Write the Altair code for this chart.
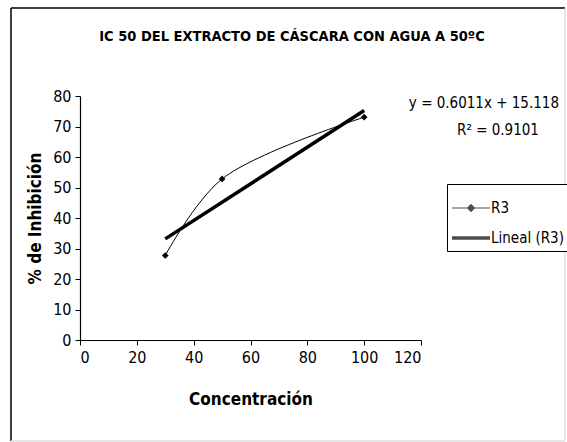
import altair as alt
import pandas as pd

# Observed inhibition values (R3) at each concentration
concentracion = [30, 50, 100]
inhibicion = [27.7, 52.8, 73.05]

# Linear trend reported on the chart
pendiente = 0.6011
intercepto = 15.118
r2 = 0.9101
tramo_x = [30, 100]

series = ["R3", "Lineal (R3)"]
x_ticks = [0, 20, 40, 60, 80, 100, 120]
y_ticks = [0, 10, 20, 30, 40, 50, 60, 70, 80]

titulo = "IC 50 DEL EXTRACTO DE CÁSCARA CON AGUA A 50ºC"
ecuacion = f"y = {pendiente}x + {intercepto}"
r2_texto = f"R² = {r2}"

FONT = "Liberation Sans Narrow, DejaVu Sans Condensed, Liberation Sans"

obs = pd.DataFrame({"x": concentracion, "y": inhibicion, "serie": "R3"})
trend = pd.DataFrame({
    "x": tramo_x,
    "y": [pendiente * v + intercepto for v in tramo_x],
    "serie": "Lineal (R3)",
})

x_enc = alt.X("x:Q", scale=alt.Scale(domain=[0, 120], nice=False),
              axis=alt.Axis(values=x_ticks, title="Concentración", titlePadding=26))
y_enc = alt.Y("y:Q", scale=alt.Scale(domain=[0, 80], nice=False),
              axis=alt.Axis(values=y_ticks, title="% de Inhibición", titlePadding=8))

curve = alt.Chart(obs).mark_line(interpolate="catmull-rom", color="black", strokeWidth=1).encode(
    x=x_enc, y=y_enc)

points = alt.Chart(obs).mark_point(shape="diamond", filled=True, color="black", size=45, opacity=1).encode(
    x=x_enc, y=y_enc)

trend_line = alt.Chart(trend).mark_line(color="black", strokeWidth=3.5).encode(x=x_enc, y=y_enc)

# Legend symbols: thin line with diamond, and a thick bar
sym_r3 = "M-1,-0.03H1V0.03H-1Z M-0.22,0L0,-0.22L0.22,0L0,0.22Z"
sym_lin = "M-1,-0.09H1V0.09H-1Z"

legend_layer = alt.Chart(pd.concat([obs, trend])).mark_point(filled=True, color="black").encode(
    x=x_enc, y=y_enc,
    shape=alt.Shape("serie:N", scale=alt.Scale(domain=series, range=[sym_r3, sym_lin]),
                    legend=alt.Legend(orient="none", legendX=367, legendY=88, title=None,
                                      strokeColor="black", fillColor="white", padding=5,
                                      symbolSize=1444, symbolFillColor="black",
                                      symbolStrokeColor="black", symbolStrokeWidth=0,
                                      labelFont=FONT, labelFontSize=15, labelColor="black",
                                      labelOffset=1, rowPadding=3)),
).transform_filter("false")

# Chart heading, placed above the plot area
heading = alt.Chart(pd.DataFrame({"t": [titulo]})).mark_text(
    font=FONT, fontSize=14.5, fontWeight="bold", align="center", baseline="middle",
    color="black").encode(text="t:N", x=alt.value(212), y=alt.value(-59))

eq1 = alt.Chart(pd.DataFrame({"t": [ecuacion]})).mark_text(
    font=FONT, fontSize=15, align="right", baseline="middle", color="black").encode(
    text="t:N", x=alt.value(479), y=alt.value(7))
eq2 = alt.Chart(pd.DataFrame({"t": [r2_texto]})).mark_text(
    font=FONT, fontSize=15, align="center", baseline="middle", color="black").encode(
    text="t:N", x=alt.value(418), y=alt.value(34))

frame_df = pd.DataFrame({"k": [0]})
left = alt.Chart(frame_df).mark_rule(color="black", strokeWidth=1.5).encode(
    x=alt.value(-69), y=alt.value(-88), y2=alt.value(345))
top = alt.Chart(frame_df).mark_rule(color="black", strokeWidth=1.5).encode(
    x=alt.value(-69), x2=alt.value(485), y=alt.value(-88))
right = alt.Chart(frame_df).mark_rule(color="#cccccc", strokeWidth=1).encode(
    x=alt.value(485), y=alt.value(-88), y2=alt.value(345))
bottom = alt.Chart(frame_df).mark_rule(color="#dddddd", strokeWidth=1.5).encode(
    x=alt.value(-69), x2=alt.value(485), y=alt.value(345))

chart = alt.layer(
    curve, trend_line, points, legend_layer, heading, eq1, eq2, left, top, right, bottom
).properties(
    width=341, height=244,
    background="white",
    autosize=alt.AutoSizeParams(type="none"),
    padding={"left": 80, "top": 96, "right": 146, "bottom": 102},
).configure_view(stroke=None).configure_axis(
    grid=False, domainColor="black", tickColor="black", labelColor="black",
    titleColor="black", labelFont=FONT, titleFont=FONT, labelFontSize=16,
    titleFontSize=17, titleFontWeight="bold", tickSize=5, domainWidth=1.2,
    labelPadding=4,
)

chart.save("out.html", embed_options={"renderer": "svg", "actions": False})
